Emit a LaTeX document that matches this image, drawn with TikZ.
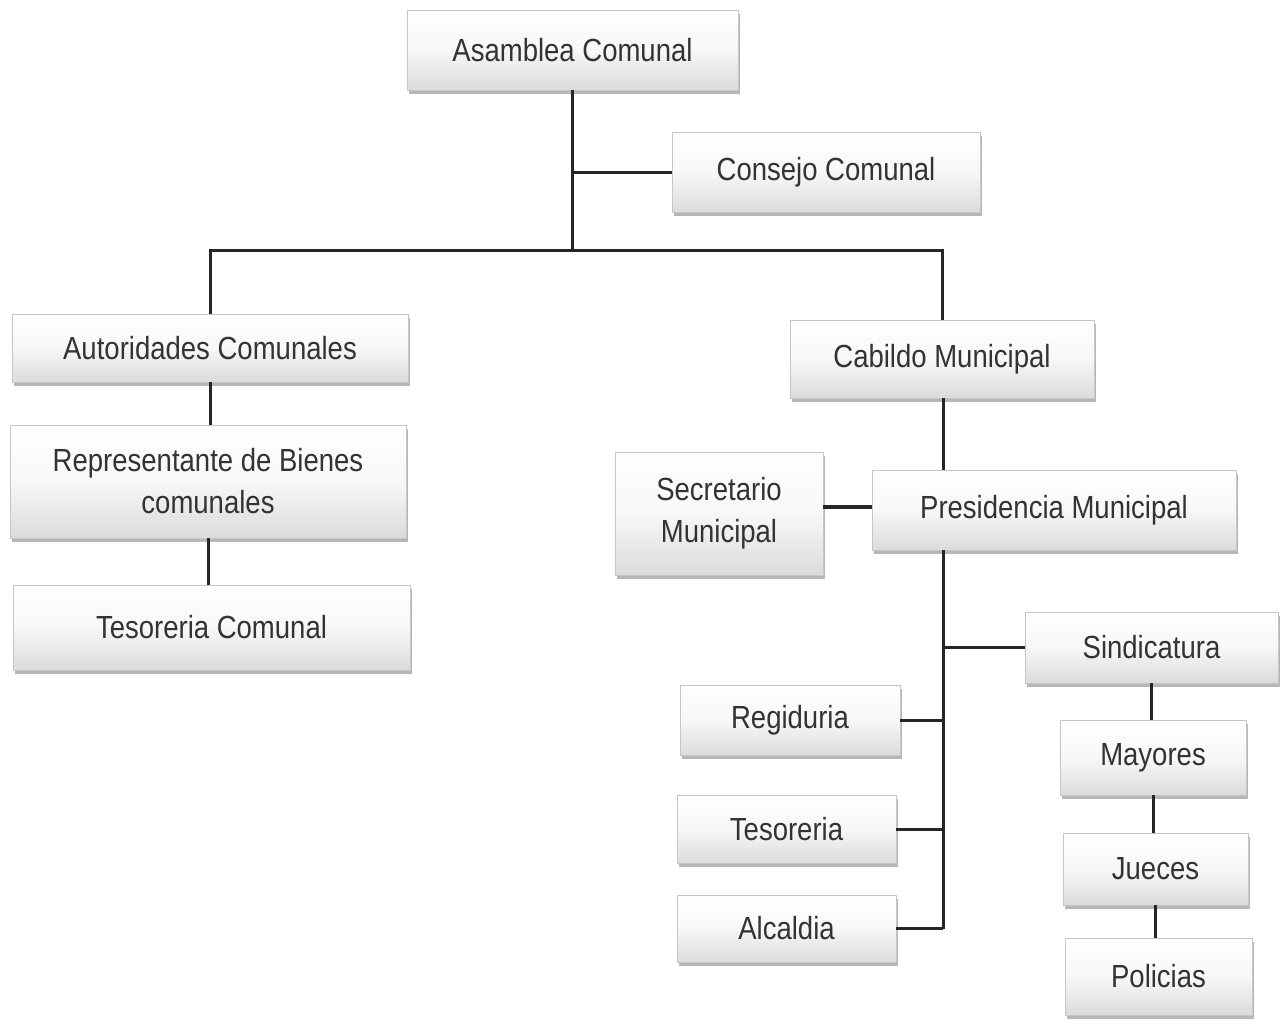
\documentclass[tikz,border=0pt]{standalone}
\usepackage{fontspec}
\setmainfont[FakeStretch=0.86]{Liberation Sans}
\usetikzlibrary{shadows}
\definecolor{txt}{HTML}{333333}
\tikzset{
  ob/.style={draw=gray!45, line width=0.8pt, top color=white, bottom color=gray!28,
    middle color=gray!6, drop shadow={shadow xshift=2pt, shadow yshift=-4pt, fill=gray!70, opacity=0.8},
    inner sep=2pt, align=center, text=txt,
    font=\fontsize{32pt}{42pt}\selectfont},
  ln/.style={line width=3pt, draw=black!85},
  lnb/.style={line width=4pt, draw=black!85}
}
\begin{document}
\begin{tikzpicture}[x=1pt,y=-1pt]
\useasboundingbox (0,0) rectangle (1282,1023);
\fill[white] (0,0) rectangle (1282,1023);
% nodes
\node[ob, minimum width=331pt, minimum height=80pt] (asam) at (572.5,50) {Asamblea Comunal};
\node[ob, minimum width=308pt, minimum height=80pt] (cons) at (826,172) {Consejo Comunal};
\node[ob, minimum width=396pt, minimum height=68pt] (auto) at (210,348) {Autoridades Comunales};
\node[ob, minimum width=304pt, minimum height=78pt] (cab) at (942,359) {Cabildo Municipal};
\node[ob, minimum width=396pt, minimum height=113pt] (rep) at (208,481.5) {Representante de Bienes\\comunales};
\node[ob, minimum width=397pt, minimum height=85pt] (tesc) at (211.5,627.5) {Tesoreria Comunal};
\node[ob, minimum width=208pt, minimum height=123pt] (sec) at (719,513.5) {Secretario\\Municipal};
\node[ob, minimum width=364pt, minimum height=80pt] (pres) at (1054,510) {Presidencia Municipal};
\node[ob, minimum width=253pt, minimum height=71pt] (sind) at (1151.5,647.5) {Sindicatura};
\node[ob, minimum width=220pt, minimum height=70pt] (reg) at (790,720) {Regiduria};
\node[ob, minimum width=219pt, minimum height=68pt] (tes) at (786.5,829) {Tesoreria};
\node[ob, minimum width=219pt, minimum height=67pt] (alc) at (786.5,928.5) {Alcaldia};
\node[ob, minimum width=186pt, minimum height=75pt] (may) at (1153,757.5) {Mayores};
\node[ob, minimum width=185pt, minimum height=72pt] (jue) at (1155.5,869) {Jueces};
\node[ob, minimum width=187pt, minimum height=77pt] (pol) at (1158.5,976.5) {Policias};
% connectors
\coordinate (j1) at (574,250);
\coordinate (pv) at (943,0);
\draw[ln] (asam.south) -- (asam.south |- j1);
\draw[ln] (cons.west) -- (cons.west -| asam.south);
\draw[ln] (auto.north) |- (j1) -| (cab.north);
\draw[ln] (auto.south) -- (auto.south |- rep.north);
\draw[ln] (rep.south) -- (rep.south |- tesc.north);
\draw[ln] (pv |- cab.south) -- (pv |- pres.north);
\draw[lnb] (sec.east |- 0,507) -- (pres.west |- 0,507);
\draw[ln] (pv |- pres.south) -- (pv |- alc.east);
\draw[ln] (sind.west) -- (sind.west -| pv);
\draw[ln] (reg.east) -- (reg.east -| pv);
\draw[ln] (tes.east) -- (tes.east -| pv);
\draw[ln] (alc.east) -- (alc.east -| pv);
\draw[ln] (sind.south) -- (sind.south |- may.north);
\draw[ln] (may.south) -- (may.south |- jue.north);
\draw[ln] (jue.south) -- (jue.south |- pol.north);
\end{tikzpicture}
\end{document}
